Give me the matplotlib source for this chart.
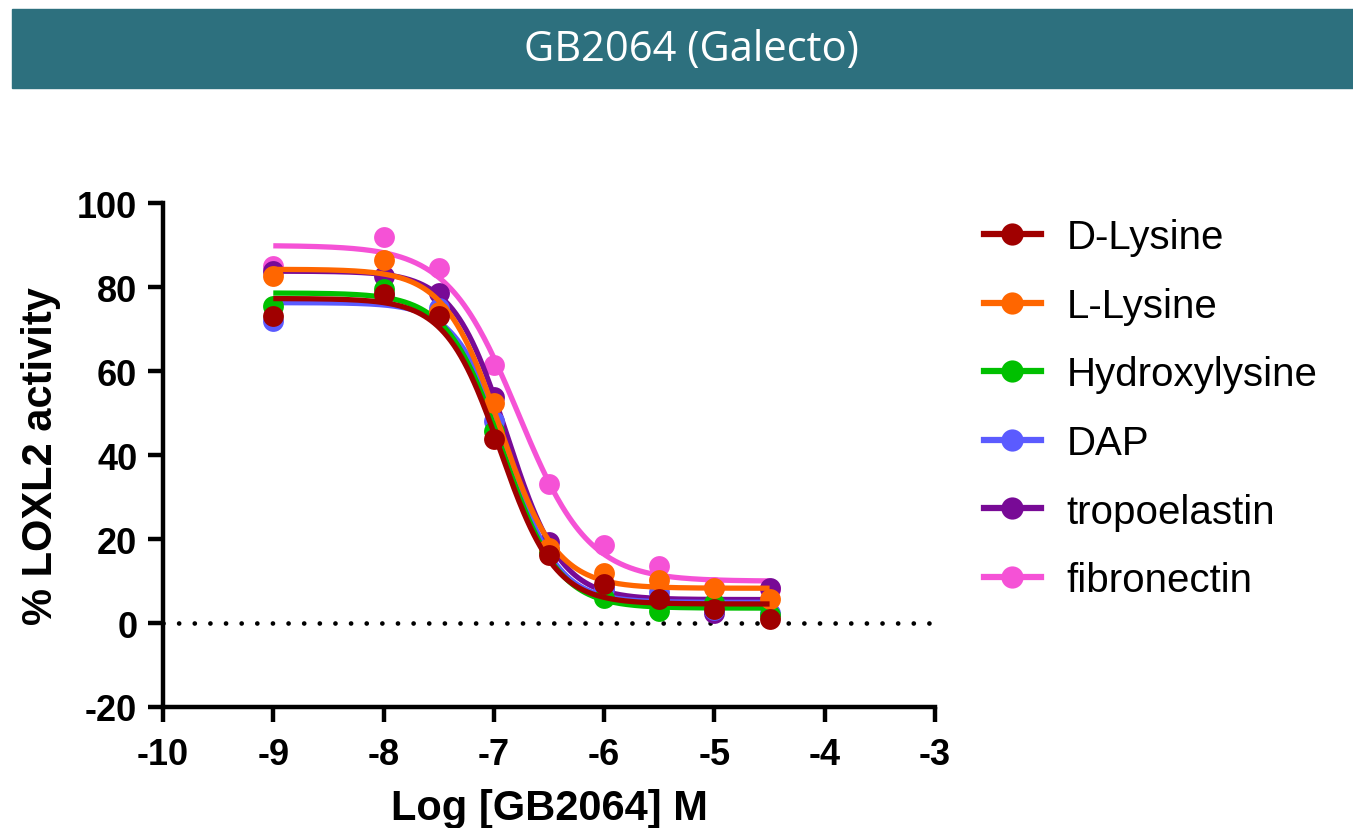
import numpy as np
import matplotlib
matplotlib.use("Agg")
import matplotlib.pyplot as plt
from matplotlib.lines import Line2D
from matplotlib.patches import Rectangle

plt.rcParams["axes.unicode_minus"] = False

# log concentrations of GB2064 (M)
log_conc = np.array([-9, -8, -7.5, -7, -6.5, -6, -5.5, -5, -4.5])

# % LOXL2 activity per substrate
d_lysine = [73.2, 78.4, 73.2, 43.9, 16.2, 9.4, 5.6, 3.3, 1.0]
l_lysine = [82.6, 86.5, 74.1, 52.3, 17.8, 12.0, 10.2, 8.4, 5.7]
hydroxylysine = [75.5, 79.5, 73.5, 45.7, 17.0, 5.9, 2.9, 4.7, 2.0]
dap = [71.8, 78.0, 74.9, 48.1, 17.5, 8.0, 7.5, 3.0, 2.4]
tropoelastin = [83.9, 82.6, 78.6, 53.7, 19.2, 8.0, 6.0, 2.4, 8.4]
fibronectin = [85.1, 92.0, 84.5, 61.4, 33.2, 18.6, 13.6, 8.5, 8.0]

names = ["D-Lysine", "L-Lysine", "Hydroxylysine", "DAP", "tropoelastin", "fibronectin"]
series = [d_lysine, l_lysine, hydroxylysine, dap, tropoelastin, fibronectin]
colors = ["#A00000", "#FF6600", "#00C000", "#5B5BFF", "#780A96", "#F552D6"]


def fit_4pl(x, y):
    # grid over logIC50 / hill, top & bottom solved by linear regression
    x = np.asarray(x, float)
    y = np.asarray(y, float)
    c = np.linspace(-8.5, -5.5, 151)[:, None, None]
    h = np.linspace(0.4, 3.0, 131)[None, :, None]
    s = 1.0 / (1.0 + 10 ** ((x[None, None, :] - c) * h))
    sm = s.mean(axis=2, keepdims=True)
    ym = y.mean()
    slope = ((s - sm) * (y - ym)).sum(axis=2, keepdims=True) / ((s - sm) ** 2).sum(axis=2, keepdims=True)
    icpt = ym - slope * sm
    err = ((icpt + slope * s - y) ** 2).sum(axis=2)
    i, j = np.unravel_index(np.argmin(err), err.shape)
    bottom = icpt[i, j, 0]
    top = bottom + slope[i, j, 0]
    return bottom, top, c[i, 0, 0], h[0, j, 0]


fig = plt.figure(figsize=(13.53, 8.29), dpi=100)

# title banner
fig.patches.append(Rectangle((12 / 1353, 1 - 89 / 829), 1 - 12 / 1353, 79 / 829,
                             transform=fig.transFigure, color="#2D707E", zorder=0))
fig.text(0.511, 1 - 50 / 829, "GB2064 (Galecto)", color="white", fontsize=30,
         family="Open Sans", ha="center", va="center")

ax = fig.add_axes([163 / 1353, 1 - 708 / 829, (935 - 163) / 1353, (708 - 204) / 829])

xx = np.linspace(log_conc.min(), log_conc.max(), 300)
n = len(names)
for k, (name, y, col) in enumerate(zip(names, series, colors)):
    bottom, top, logic50, hill = fit_4pl(log_conc, y)
    fit = bottom + (top - bottom) / (1 + 10 ** ((xx - logic50) * hill))
    z = 3 + (n - k)
    ax.plot(xx, fit, color=col, lw=3.8, zorder=z, solid_capstyle="butt")
    ax.plot(log_conc, y, "o", color=col, ms=15, mec="none", zorder=z + 0.5)

ax.axhline(0, color="black", lw=3.4, linestyle=(0, (0.01, 3.3)),
           dash_capstyle="round", zorder=2)

ax.set_xlim(-10, -3)
ax.set_ylim(-20, 100)
ax.set_xticks(np.arange(-10, -2, 1))
ax.set_yticks(np.arange(-20, 101, 20))
for sp in ["top", "right"]:
    ax.spines[sp].set_visible(False)
for sp in ["left", "bottom"]:
    ax.spines[sp].set_linewidth(3.2)
ax.tick_params(axis="both", width=3.2, length=10.5, labelsize=26, pad=8)
ax.tick_params(axis="x", pad=11)
for lab in ax.get_xticklabels() + ax.get_yticklabels():
    lab.set_fontweight("bold")
    lab.set_family("Liberation Sans")

ax.set_xlabel("Log [GB2064] M", fontsize=30, fontweight="bold", family="Liberation Sans")
ax.set_ylabel("% LOXL2 activity", fontsize=30, fontweight="bold", family="Liberation Sans")
ax.xaxis.set_label_coords(0.5, -0.16)
ax.yaxis.set_label_coords(-0.132, 0.5)

handles = [Line2D([], [], color=c, lw=4.5, marker="o", ms=16, mec="none") for c in colors]
fig.legend(handles, names, loc="upper left", bbox_to_anchor=(968 / 1353, 1 - 203 / 829),
           frameon=False, prop={"family": "Liberation Sans", "size": 29},
           handlelength=1.4, handletextpad=0.65, labelspacing=0.76, borderaxespad=0)

fig.savefig("out.png", dpi=100)
